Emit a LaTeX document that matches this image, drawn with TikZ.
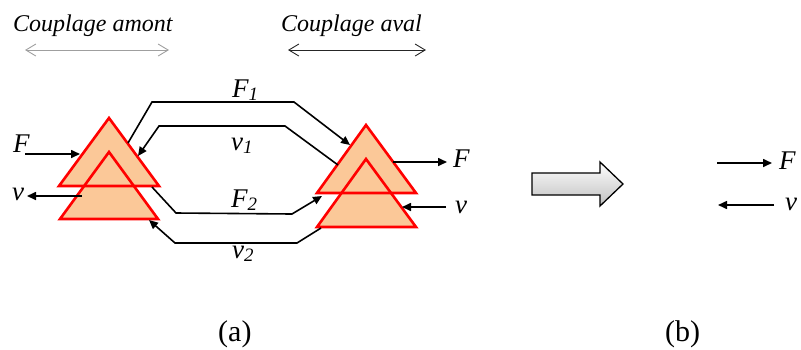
\documentclass[tikz,border=0pt]{standalone}
\usepackage{fontspec}
\setmainfont{Liberation Serif}
\usetikzlibrary{arrows.meta}
\definecolor{peach}{HTML}{FBC898}
\definecolor{tred}{HTML}{FF0000}
\begin{document}
\begin{tikzpicture}[x=1pt,y=-1pt,
  trifill/.style={fill=peach},
  triline/.style={draw=tred,line width=2.6pt,line join=miter},
  conn/.style={line width=1.6pt,-{Triangle[length=9pt,width=8pt]}},
  lab/.style={font=\fontsize{24}{28}\selectfont\itshape,inner sep=0pt,anchor=base west},
  sym/.style={font=\fontsize{27}{30}\selectfont\itshape,inner sep=0pt,anchor=base west},
  captext/.style={font=\fontsize{30}{34}\selectfont,inner sep=0pt,anchor=base west},
  spanarrow/.style={line width=0.9pt,{Straight Barb[length=10pt,width=12pt]}-{Straight Barb[length=10pt,width=12pt]}}
]
\useasboundingbox (0,0) rectangle (801,349);
% triangle corners
\coordinate (LUt) at (109,118); \coordinate (LUl) at (59,186); \coordinate (LUr) at (159,186);
\coordinate (LLt) at (109,152); \coordinate (LLl) at (60,219); \coordinate (LLr) at (158,219);
\coordinate (RUt) at (366,125); \coordinate (RUl) at (317,193); \coordinate (RUr) at (416,193);
\coordinate (RLt) at (366,159); \coordinate (RLl) at (317,227); \coordinate (RLr) at (416,227);
\fill[trifill] (LUt) -- (LUl) -- (LUr) -- cycle;
\fill[trifill] (LLt) -- (LLl) -- (LLr) -- cycle;
\fill[trifill] (RUt) -- (RUl) -- (RUr) -- cycle;
\fill[trifill] (RLt) -- (RLl) -- (RLr) -- cycle;
\draw[triline] (LUt) -- (LUl) -- (LUr) -- cycle;
\draw[triline] (LLt) -- (LLl) -- (LLr) -- cycle;
\draw[triline] (RUt) -- (RUl) -- (RUr) -- cycle;
\draw[triline] (RLt) -- (RLl) -- (RLr) -- cycle;
% connector points
\coordinate (F1s) at (128,143); \coordinate (F1a) at (152,102); \coordinate (F1b) at (294,102); \coordinate (F1e) at (350,145);
\coordinate (v1s) at (338,165); \coordinate (v1a) at (285,126); \coordinate (v1b) at (159,126); \coordinate (v1e) at (138,156);
\coordinate (F2s) at (152,187); \coordinate (F2a) at (176,213); \coordinate (F2b) at (292,214); \coordinate (F2e) at (322,196);
\coordinate (v2s) at (321,228); \coordinate (v2a) at (297,243); \coordinate (v2b) at (175,243); \coordinate (v2e) at (149,220);
\coordinate (Fin0) at (25,154); \coordinate (Fin1) at (80,154);
\coordinate (vo0) at (82,196); \coordinate (vo1) at (27,196);
\coordinate (Fo0) at (393,162); \coordinate (Fo1) at (447,162);
\coordinate (vi0) at (446,207); \coordinate (vi1) at (402,207);
\coordinate (bF0) at (717,163); \coordinate (bF1) at (772,163);
\coordinate (bv0) at (774,205); \coordinate (bv1) at (718,205);
\coordinate (am0) at (25,50); \coordinate (am1) at (169,50);
\coordinate (av0) at (288,50); \coordinate (av1) at (426,50);
\draw[conn] (F1s) -- (F1a) -- (F1b) -- (F1e);
\draw[conn] (v1s) -- (v1a) -- (v1b) -- (v1e);
\draw[conn] (F2s) -- (F2a) -- (F2b) -- (F2e);
\draw[conn] (v2s) -- (v2a) -- (v2b) -- (v2e);
\draw[conn] (Fin0) -- (Fin1);
\draw[conn] (vo0) -- (vo1);
\draw[conn] (Fo0) -- (Fo1);
\draw[conn] (vi0) -- (vi1);
\draw[conn] (bF0) -- (bF1);
\draw[conn] (bv0) -- (bv1);
\draw[spanarrow,draw=gray!75] (am0) -- (am1);
\draw[spanarrow,draw=black!85] (av0) -- (av1);
% block arrow
\shade[top color=white,bottom color=gray!50,draw=black,line width=1.3pt,line join=miter]
  (532,173) -- (600,173) -- (600,162) -- (623,184) -- (600,206) -- (600,195) -- (532,195) -- cycle;
% labels
\node[lab] (tam) at (13,31) {Couplage amont};
\node[lab] (tav) at (281,31) {Couplage aval};
\node[sym] (lF) at (13,152) {F};
\node[sym] (lv) at (12,200) {v};
\node[sym] (rF) at (453,167) {F};
\node[sym] (rv) at (455,213) {v};
\node[sym] (lF1) at (232,97) {F\textsubscript{\itshape 1}};
\node[sym] (lv1) at (231,150) {v\textsubscript{\itshape 1}};
\node[sym] (lF2) at (231,207) {F\textsubscript{\itshape 2}};
\node[sym] (lv2) at (232,258) {v\textsubscript{\itshape 2}};
\node[sym] (bF) at (779,169) {F};
\node[sym] (bv) at (785,210) {v};
\node[captext] (ca) at (218,341) {(a)};
\node[captext] (cb) at (665,341) {(b)};
\end{tikzpicture}
\end{document}
